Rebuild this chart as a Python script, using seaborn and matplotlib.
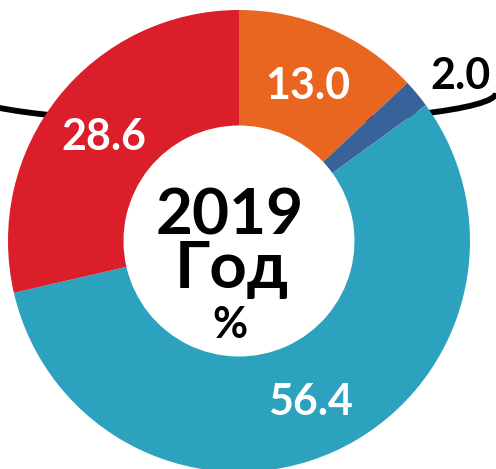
import matplotlib
matplotlib.use("Agg")
import matplotlib.pyplot as plt
from matplotlib.patches import Arc, Circle
import numpy as np
import seaborn as sns

# data, clockwise from 12 o'clock
values = [13.0, 2.0, 56.4, 28.6]
labels = ["13.0", "2.0", "56.4", "28.6"]
colors = ["#E8661F", "#3A629A", "#2DA2BF", "#DA1F2B"]
label_colors = ["white", "black", "white", "white"]
year_text = "2019"
unit_text = "Год"

sns.set_theme(style="white")
plt.rcParams["font.family"] = ["Lato", "Noto Sans", "DejaVu Sans"]
plt.rcParams["font.weight"] = "bold"

fig = plt.figure(figsize=(4.96, 4.69), dpi=100)
ax = fig.add_axes([0, 0, 1, 1])

# decorative bracket behind the ring
ax.add_patch(Arc((-0.039, 0.641), 2.303, 0.26, theta1=180, theta2=360,
                 color="black", lw=4.2, zorder=0))

wedges, _ = ax.pie(values, colors=sns.color_palette(colors), startangle=90,
                   counterclock=False, radius=1.0,
                   wedgeprops=dict(width=0.5, linewidth=0))
for w in wedges:
    w.set_zorder(2)
# white hole
ax.add_patch(Circle((0, 0), 0.5, color="white", zorder=1.5))

for w, lab, c in zip(wedges, labels, label_colors):
    mid = np.deg2rad((w.theta1 + w.theta2) / 2)
    if c == "black":
        r, off = 1.2, (6, -6)
    else:
        r, off = 0.75, (0, 0)
    ax.annotate(lab, (r * np.cos(mid), r * np.sin(mid)), xytext=off,
                textcoords="offset points", ha="center", va="center_baseline",
                color=c, fontsize=31, fontweight="bold", zorder=3)

ax.text(-0.039, 0.026, year_text, ha="center", va="baseline",
        fontsize=46, fontweight="bold", color="black", zorder=3)
ax.text(-0.032, -0.203, unit_text, ha="center", va="baseline",
        fontsize=47, fontweight="bold", color="black", zorder=3)
ax.text(-0.039, -0.42, "%", ha="center", va="baseline",
        fontsize=31, fontweight="bold", color="black", zorder=3)

ax.set_aspect("auto")
ax.set_xlim(-1.0346, 1.1126)
ax.set_ylim(-0.987, 1.0433)
ax.axis("off")

fig.savefig("out.png", dpi=100, facecolor="white")
